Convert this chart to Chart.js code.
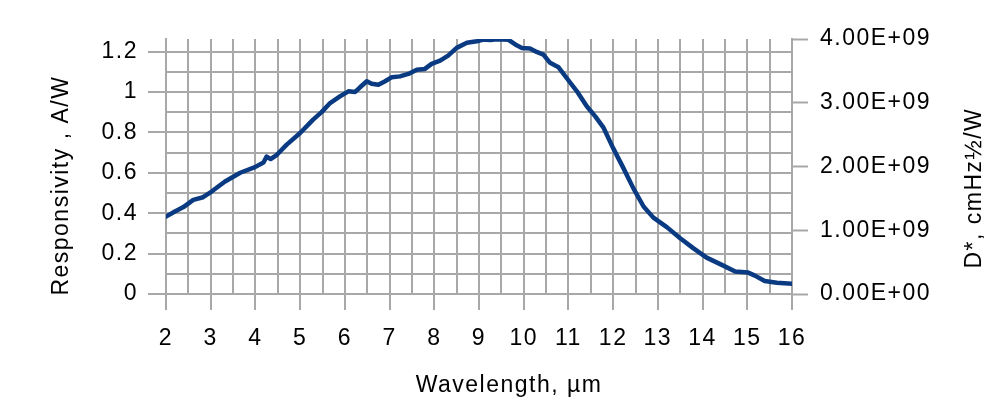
<!DOCTYPE html>
<html>
<head>
<meta charset="utf-8">
<script src="https://cdn.jsdelivr.net/npm/chart.js@4.4.0/dist/chart.umd.min.js"></script>
<style>
html,body{margin:0;padding:0;background:#fff;}
#wrap{width:1000px;height:420px;position:relative;}
canvas{display:block;}
</style>
</head>
<body>
<div id="wrap"><canvas id="c" width="1000" height="420"></canvas></div>
<script>
// ---- data ----
const wavelength = [
  2.00, 2.20, 2.39, 2.61, 2.83, 3.02, 3.32, 3.66, 3.99, 4.18, 4.25, 4.34, 4.48, 4.70,
  5.00, 5.29, 5.48, 5.67, 5.89, 6.08, 6.23, 6.34, 6.49, 6.60, 6.75, 6.90, 7.05, 7.23,
  7.42, 7.61, 7.79, 7.94, 8.13, 8.31, 8.50, 8.73, 8.95, 9.10, 9.25, 9.40, 9.66, 9.81,
  9.96, 10.14, 10.29, 10.44, 10.59, 10.78, 10.96, 11.19, 11.41, 11.60, 11.78, 12.00,
  12.23, 12.45, 12.68, 12.90, 13.20, 13.50, 13.79, 14.09, 14.43, 14.73, 15.02, 15.17,
  15.39, 15.66, 16.00
];
const responsivity = [
  0.383, 0.408, 0.430, 0.466, 0.479, 0.507, 0.557, 0.600, 0.628, 0.651, 0.680, 0.668, 0.689, 0.739,
  0.797, 0.863, 0.900, 0.945, 0.978, 1.003, 1.000, 1.023, 1.053, 1.040, 1.036, 1.053, 1.073, 1.077,
  1.089, 1.110, 1.114, 1.139, 1.155, 1.180, 1.218, 1.243, 1.251, 1.259, 1.257, 1.261, 1.258, 1.235,
  1.218, 1.215, 1.198, 1.185, 1.144, 1.122, 1.069, 1.003, 0.929, 0.879, 0.825, 0.722,
  0.623, 0.524, 0.433, 0.378, 0.331, 0.276, 0.227, 0.180, 0.144, 0.111, 0.106, 0.091,
  0.064, 0.056, 0.051
];
const xTickLabels = ['2','3','4','5','6','7','8','9','10','11','12','13','14','15','16'];
const leftTickLabels = ['0','0.2','0.4','0.6','0.8','1','1.2'];
const rightTickLabels = ['0.00E+00','1.00E+09','2.00E+09','3.00E+09','4.00E+09'];
const xTitle = 'Wavelength, µm';
const leftTitle = 'Responsivity , A/W';
const rightTitle = 'D*, cmHz½/W';

// ---- styling ----
const GRID = '#a8a8a8';
const FONT = {family: "'Liberation Sans', Arial, sans-serif", size: 23};
const SPACING = '1.5px';

const points = wavelength.map((w, i) => ({x: w, y: responsivity[i]}));

const spacingPlugin = {
  id: 'spacing',
  beforeDraw(chart) { chart.ctx.letterSpacing = SPACING; }
};

const titlesPlugin = {
  id: 'titles',
  afterDraw(chart) {
    const ctx = chart.ctx;
    ctx.save();
    ctx.letterSpacing = SPACING;
    ctx.fillStyle = '#000';
    ctx.font = `${FONT.size}px ${FONT.family}`;
    ctx.textAlign = 'center';
    ctx.textBaseline = 'middle';
    const ca = chart.chartArea;
    // x title
    ctx.fillText(xTitle, ca.left + (ca.right - ca.left) * 0.548, 386);
    // left title
    ctx.save();
    ctx.translate(62, ca.top + (ca.bottom - ca.top) * 0.575);
    ctx.rotate(-Math.PI / 2);
    ctx.fillText(leftTitle, 0, 0);
    ctx.restore();
    // right title
    ctx.save();
    ctx.translate(975, ca.top + (ca.bottom - ca.top) * 0.585);
    ctx.rotate(-Math.PI / 2);
    ctx.fillText(rightTitle, 0, 0);
    ctx.restore();
    ctx.restore();
  }
};

const isMajorLeft = v => Math.round(v * 10) % 2 === 0;
const isInt = v => Math.abs(v - Math.round(v)) < 1e-6;

new Chart(document.getElementById('c'), {
  type: 'line',
  data: {
    datasets: [{
      data: points,
      borderColor: '#0a3b82',
      borderWidth: 4.5,
      pointRadius: 0,
      tension: 0,
      borderJoinStyle: 'round',
      borderCapStyle: 'round',
      yAxisID: 'y'
    }]
  },
  options: {
    responsive: false,
    animation: false,
    devicePixelRatio: 1,
    layout: {padding: {top: 39, left: 0, right: 0, bottom: 0}},
    plugins: {legend: {display: false}, tooltip: {enabled: false}, title: {display: false}},
    scales: {
      x: {
        type: 'linear',
        position: 'bottom',
        min: 2, max: 16,
        afterFit(s) { s.height = 126; },
        ticks: {
          stepSize: 0.5,
          autoSkip: false,
          maxRotation: 0,
          padding: 15,
          color: '#000',
          font: FONT,
          callback: v => isInt(v) ? xTickLabels[Math.round(v) - 2] : ''
        },
        grid: {
          color: GRID,
          lineWidth: 2,
          drawTicks: true,
          tickLength: 16,
          tickColor: ctx => (ctx.tick && isInt(ctx.tick.value)) ? GRID : 'rgba(0,0,0,0)',
          tickWidth: 2
        },
        border: {display: true, color: GRID, width: 2}
      },
      y: {
        type: 'linear',
        position: 'left',
        min: 0, max: 1.262,
        afterFit(s) { s.width = 166; },
        afterBuildTicks(s) { s.ticks = s.ticks.filter(t => t.value <= 1.2001); },
        ticks: {
          stepSize: 0.1,
          includeBounds: false,
          autoSkip: false,
          padding: 10,
          color: '#000',
          font: FONT,
          callback: v => isMajorLeft(v) ? leftTickLabels[Math.round(v * 5)] : ''
        },
        grid: {
          color: GRID,
          lineWidth: 2,
          drawTicks: true,
          tickLength: 18,
          tickColor: ctx => (ctx.tick && isMajorLeft(ctx.tick.value)) ? GRID : 'rgba(0,0,0,0)',
          tickWidth: 2
        },
        border: {display: true, color: GRID, width: 2}
      },
      y2: {
        type: 'linear',
        position: 'right',
        min: 0, max: 4e9,
        afterFit(s) { s.width = 208; },
        ticks: {
          stepSize: 1e9,
          autoSkip: false,
          padding: 12,
          color: '#000',
          font: FONT,
          callback: v => rightTickLabels[Math.round(v / 1e9)]
        },
        grid: {
          drawOnChartArea: false,
          drawTicks: true,
          tickLength: 16,
          tickColor: GRID,
          tickWidth: 2
        },
        border: {display: true, color: GRID, width: 2}
      }
    }
  },
  plugins: [spacingPlugin, titlesPlugin]
});
</script>
</body>
</html>
